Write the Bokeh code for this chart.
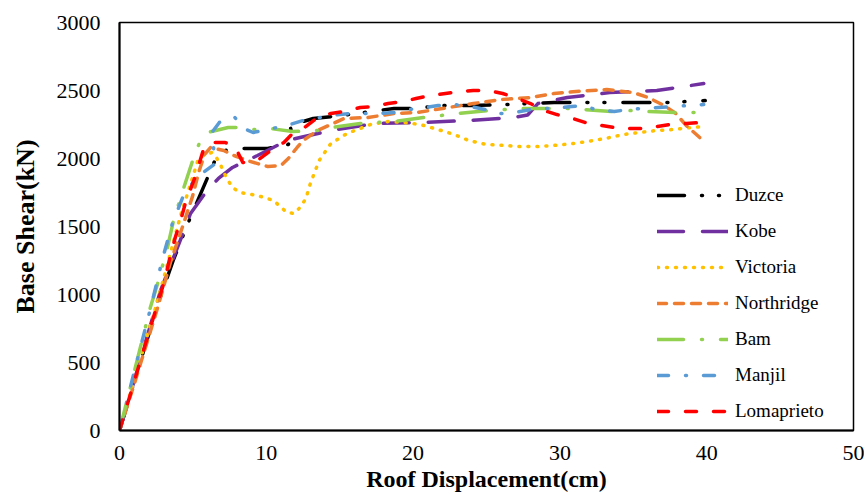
from bokeh.plotting import figure
from bokeh.models import Range1d, FixedTicker
from bokeh.embed import file_html
from bokeh.resources import INLINE

# ---- data ----
x_ticks = [0, 10, 20, 30, 40, 50]
y_ticks = [0, 500, 1000, 1500, 2000, 2500, 3000]

duzce_d = [0, 1.0, 2.66, 3.68, 4.77, 6.0, 6.47, 7.2, 8.4, 10.1, 11.5, 11.8, 11.6, 13.2, 15.1, 16.6, 18.7,
           19.9, 22.2, 23.9, 26.4, 29.6, 35.0, 37.3, 39.9]
duzce_v = [0, 360, 941, 1257, 1551, 1860, 1978, 2059, 2074, 2074, 2103, 2170, 2243, 2294, 2316, 2338, 2368,
           2368, 2390, 2390, 2397, 2412, 2412, 2412, 2426]

kobe_d = [0, 1.0, 2.8, 4.0, 4.84, 6.06, 6.74, 7.7, 9.4, 11.4, 12.3, 14.4, 15.7, 17.4, 20.6, 23.7, 26.8,
          27.8, 28.5, 30.5, 33.4, 36.6, 39.8]
kobe_v = [0, 365, 1030, 1360, 1596, 1779, 1853, 1934, 2022, 2132, 2154, 2206, 2228, 2257, 2265, 2279, 2301,
          2320, 2404, 2448, 2485, 2500, 2551]

victoria_d = [0, 1.0, 2.66, 3.7, 4.16, 4.7, 5.4, 6.27, 6.6, 6.9, 7.15, 7.4, 7.7, 8.2, 9.4, 10.5, 11.4, 11.9,
              12.3, 12.7, 13.0, 13.6, 14.4, 15.5, 17.1, 18.3, 19.3, 20.5, 21.7, 22.8, 23.8, 25.0, 26.2,
              27.3, 28.5, 29.6, 30.9, 31.9, 33.1, 34.3, 35.4, 36.6, 37.7, 39.0, 39.7]
victoria_v = [0, 370, 978, 1397, 1580, 1765, 2007, 2044, 2007, 1950, 1890, 1838, 1787, 1750, 1728, 1691, 1603,
              1596, 1640, 1706, 1816, 1985, 2110, 2184, 2250, 2272, 2265, 2250, 2213, 2176, 2132, 2103, 2096,
              2088, 2088, 2096, 2110, 2125, 2147, 2176, 2191, 2206, 2213, 2228, 2235]

northridge_d = [0, 1.0, 2.6, 3.47, 4.3, 4.97, 5.4, 5.8, 6.2, 7.1, 7.8, 8.7, 10.1, 11.0, 11.5, 12.1, 12.5,
                13.5, 15.3, 16.9, 18.7, 20.3, 22.0, 24.1, 26.0, 28.0, 29.6, 31.1, 33.2, 35.0, 36.0, 37.1,
                37.9, 38.6, 39.6, 39.8]
northridge_v = [0, 340, 904, 1235, 1500, 1720, 1900, 2030, 2081, 2059, 2022, 1985, 1941, 1948, 2000, 2081, 2132,
                2206, 2294, 2301, 2331, 2338, 2368, 2404, 2434, 2448, 2478, 2493, 2507, 2485, 2449, 2390,
                2331, 2243, 2147, 2132]

bam_d = [0, 1.0, 2.1, 2.66, 3.27, 3.68, 4.36, 5.0, 5.5, 6.0, 7.4, 8.0, 9.2, 10.3, 11.8, 13.5, 14.4, 16.4,
         17.5, 18.7, 20.7, 21.9, 23.0, 25.1, 26.2, 27.3, 29.6, 30.5, 31.6, 33.5, 34.7, 35.8, 37.9, 39.0, 39.6]
bam_v = [0, 430, 904, 1103, 1346, 1544, 1779, 1990, 2130, 2191, 2228, 2228, 2213, 2220, 2198, 2206, 2228, 2257,
         2265, 2272, 2301, 2316, 2331, 2353, 2360, 2368, 2368, 2368, 2360, 2346, 2353, 2346, 2338, 2338, 2338]

manjil_d = [0, 1.0, 2.25, 2.9, 3.6, 4.3, 5.0, 5.7, 6.5, 6.4, 6.3, 6.8, 7.8, 8.5, 9.1, 10.4, 11.4, 12.5,
            14.4, 15.7, 16.6, 17.6, 18.7, 19.7, 20.8, 21.7, 22.8, 23.9, 24.9, 25.4, 26.4, 27.3, 28.5, 29.6,
            30.8, 31.6, 32.4, 33.7, 34.7, 35.6, 36.7, 37.9, 38.7, 39.8]
manjil_v = [0, 430, 956, 1250, 1522, 1713, 1824, 1897, 1960, 2090, 2191, 2265, 2309, 2220, 2191, 2220, 2243, 2279,
            2316, 2331, 2331, 2331, 2338, 2360, 2375, 2390, 2397, 2382, 2360, 2331, 2331, 2346, 2368, 2368,
            2382, 2390, 2360, 2346, 2360, 2368, 2375, 2382, 2390, 2397]

loma_d = [0, 1.0, 2.45, 3.07, 3.5, 3.8, 4.16, 4.5, 5.2, 5.7, 6.2, 7.2, 7.9, 8.4, 9.4, 10.3, 11.2, 11.8,
          12.5, 13.5, 14.4, 15.3, 16.4, 17.3, 18.3, 19.3, 20.2, 21.2, 22.2, 23.2, 24.1, 25.1, 26.1, 27.1,
          28.0, 28.9, 29.8, 30.9, 31.7, 32.8, 33.7, 34.7, 35.7, 36.6, 37.5, 38.6, 39.6]
loma_v = [0, 360, 882, 1103, 1301, 1419, 1544, 1676, 1880, 2059, 2118, 2118, 2081, 1970, 1985, 2059, 2118, 2184,
          2220, 2301, 2331, 2345, 2375, 2382, 2404, 2419, 2441, 2463, 2478, 2493, 2500, 2500, 2478, 2441,
          2404, 2353, 2323, 2294, 2265, 2243, 2228, 2220, 2220, 2235, 2250, 2257, 2265]

series = [
    ("Duzce", duzce_d, duzce_v, "#000000", "27 17 1 16 1 18"),
    ("Kobe", kobe_d, kobe_v, "#7030A0", "26 19"),
    ("Victoria", victoria_d, victoria_v, "#FFC000", "1 8"),
    ("Northridge", northridge_d, northridge_v, "#ED7D31", "9 8"),
    ("Bam", bam_d, bam_v, "#92D050", "26 18 1 18"),
    ("Manjil", manjil_d, manjil_v, "#5B9BD5", "11 17 1 17"),
    ("Lomaprieto", loma_d, loma_v, "#FF0000", "11 17"),
]

FONT = "Liberation Serif"

p = figure(width=864, height=494, x_range=Range1d(0, 50), y_range=Range1d(0, 3000),
           output_backend="svg", toolbar_location=None,
           min_border_left=119, min_border_right=11, min_border_top=22, min_border_bottom=64)

for name, d, v, color, dash in series:
    p.line(d, v, line_color=color, line_width=3.5, line_dash=dash,
           line_cap="round", line_join="round", legend_label=name)

p.xgrid.visible = False
p.ygrid.visible = False
p.outline_line_color = "black"
p.outline_line_width = 1.5
p.background_fill_color = "white"
p.border_fill_color = "white"

p.xaxis.ticker = FixedTicker(ticks=x_ticks)
p.yaxis.ticker = FixedTicker(ticks=y_ticks)
for ax in (p.xaxis[0], p.yaxis[0]):
    ax.axis_line_color = "black"
    ax.axis_line_width = 2
    ax.major_tick_line_color = None
    ax.minor_tick_line_color = None
    ax.major_tick_out = 0
    ax.major_tick_in = 0
    ax.major_label_text_font = FONT
    ax.major_label_text_font_size = "22px"
    ax.major_label_text_color = "black"
    ax.axis_label_text_font = FONT
    ax.axis_label_text_font_style = "bold"
    ax.axis_label_text_color = "black"

p.xaxis.axis_label = "Roof Displacement(cm)"
p.yaxis.axis_label = "Base Shear(kN)"
p.xaxis.axis_label_text_font_size = "24px"
p.yaxis.axis_label_text_font_size = "26px"
p.xaxis.major_label_standoff = 15
p.yaxis.major_label_standoff = 19
p.xaxis.axis_label_standoff = 3
p.yaxis.axis_label_standoff = 14

lg = p.legend[0]
lg.location = (538, 8)
lg.margin = 0
lg.padding = 0
lg.spacing = 14
lg.glyph_width = 71
lg.glyph_height = 20
lg.label_height = 20
lg.label_standoff = 7
lg.label_text_font = FONT
lg.label_text_font_size = "19px"
lg.label_text_color = "black"
lg.border_line_color = None
lg.background_fill_alpha = 0

open("out.html", "w").write(file_html(p, INLINE))
